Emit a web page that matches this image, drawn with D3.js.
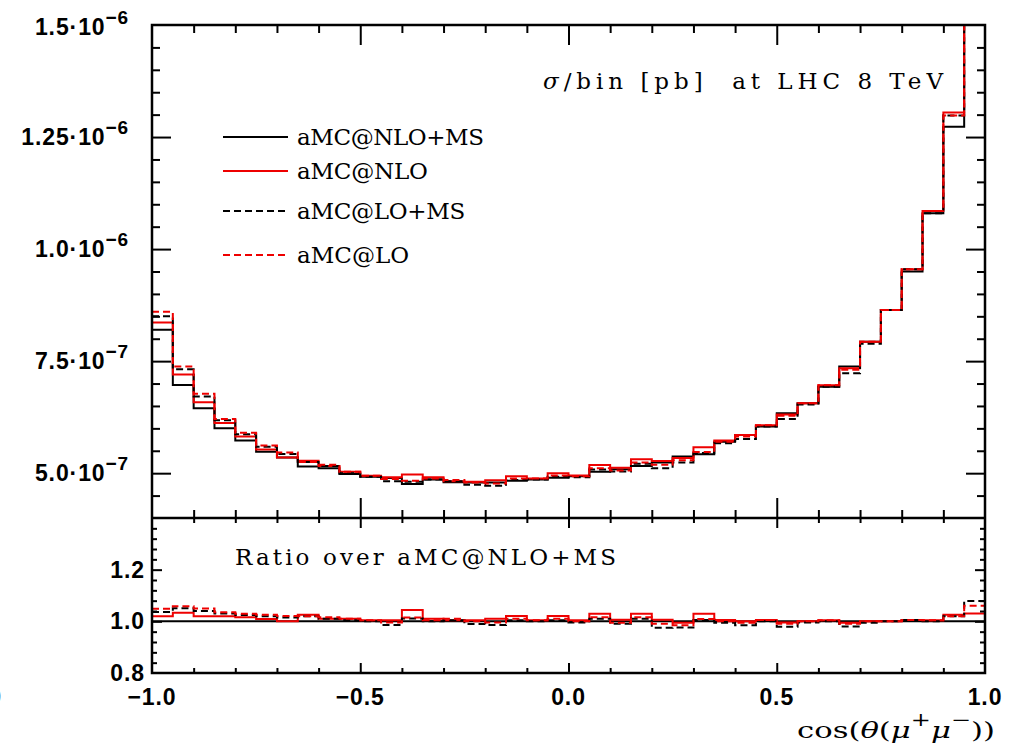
<!DOCTYPE html>
<html>
<head>
<meta charset="utf-8">
<script src="https://cdn.jsdelivr.net/npm/d3@7"></script>
<style>
body { margin: 0; background: #fff; }
svg { display: block; }
.tick line { stroke: #000; stroke-width: 2; }
.num { font-family: "Liberation Sans", Arial, sans-serif; font-weight: bold; font-size: 23px; letter-spacing: 0.9px; }
.lab { font-family: "DejaVu Serif", serif; font-size: 23px; white-space: pre; }
</style>
</head>
<body>
<svg id="chart" width="1012" height="752"></svg>
<script>
// bin edges in cos(theta)
var xEdges = [-1.0, -0.95, -0.9, -0.85, -0.8, -0.75, -0.7, -0.65, -0.6, -0.55,
	-0.5, -0.45, -0.4, -0.35, -0.3, -0.25, -0.2, -0.15, -0.1, -0.05,
	0.0, 0.05, 0.1, 0.15, 0.2, 0.25, 0.3, 0.35, 0.4, 0.45,
	0.5, 0.55, 0.6, 0.65, 0.7, 0.75, 0.8, 0.85, 0.9, 0.95, 1.0];

// sigma/bin in units of 1e-7 pb
var nloMS = [8.20, 6.97, 6.45, 6.00, 5.73, 5.48, 5.35, 5.15, 5.11, 4.98,
	4.92, 4.89, 4.76, 4.86, 4.80, 4.79, 4.79, 4.83, 4.86, 4.90,
	4.93, 5.03, 5.09, 5.16, 5.24, 5.37, 5.42, 5.70, 5.85, 6.04,
	6.34, 6.56, 6.93, 7.38, 7.93, 8.64, 9.50, 10.80, 12.73, 16.5];
var nlo = [8.36, 7.20, 6.58, 6.12, 5.82, 5.53, 5.35, 5.28, 5.16, 5.03,
	4.94, 4.91, 4.97, 4.91, 4.82, 4.81, 4.84, 4.93, 4.88, 5.00,
	4.95, 5.18, 5.12, 5.31, 5.27, 5.34, 5.58, 5.73, 5.85, 6.07,
	6.31, 6.56, 6.96, 7.34, 7.93, 8.64, 9.55, 10.85, 13.05, 17.0];
var loMS = [8.50, 7.32, 6.71, 6.18, 5.87, 5.59, 5.43, 5.25, 5.16, 5.00,
	4.92, 4.82, 4.81, 4.86, 4.82, 4.74, 4.72, 4.85, 4.86, 4.92,
	4.91, 5.08, 5.04, 5.21, 5.11, 5.24, 5.45, 5.67, 5.76, 6.04,
	6.21, 6.53, 6.93, 7.23, 7.89, 8.64, 9.55, 10.80, 12.98, 17.8];
var lo = [8.60, 7.38, 6.77, 6.21, 5.90, 5.62, 5.46, 5.25, 5.19, 5.03,
	4.94, 4.87, 4.83, 4.88, 4.85, 4.79, 4.77, 4.88, 4.88, 4.95,
	4.93, 5.11, 5.06, 5.24, 5.19, 5.29, 5.47, 5.70, 5.82, 6.07,
	6.28, 6.56, 6.96, 7.31, 7.93, 8.64, 9.55, 10.85, 12.98, 17.5];

var seriesNames = ["aMC@NLO+MS", "aMC@NLO", "aMC@LO+MS", "aMC@LO"];

var mainTicks = [5, 7.5, 10, 12.5, 15];
var mainTickText = ["5.0", "7.5", "1.0", "1.25", "1.5"];
var mainTickExp = ["\u22127", "\u22127", "\u22126", "\u22126", "\u22126"];
var ratioTicks = [0.8, 1.0, 1.2];
var ratioTickText = ["0.8", "1.0", "1.2"];
var xTicks = [-1, -0.5, 0, 0.5, 1];
var xTickText = ["\u22121.0", "\u22120.5", "0.0", "0.5", "1.0"];

var pLeft = 152, pRight = 985, pTop = 25, pMid = 518, pBottom = 673;

var svg = d3.select("#chart");
svg.append("rect").attr("width", 1012).attr("height", 752).attr("fill", "#fff");

var x = d3.scaleLinear().domain([-1, 1]).range([pLeft, pRight]);
var yMain = d3.scaleLinear().domain([4, 15]).range([pMid, pTop]);
var yRatio = d3.scaleLinear().domain([0.8, 1.4]).range([pBottom, pMid]);

var defs = svg.append("defs");
defs.append("clipPath").attr("id", "clipMain").append("rect")
	.attr("x", pLeft).attr("y", pTop).attr("width", pRight - pLeft).attr("height", pMid - pTop);
defs.append("clipPath").attr("id", "clipRatio").append("rect")
	.attr("x", pLeft).attr("y", pMid).attr("width", pRight - pLeft).attr("height", pBottom - pMid);

var series = [
	{ name: seriesNames[0], vals: nloMS, color: "#000", dash: null },
	{ name: seriesNames[1], vals: nlo, color: "#ee0000", dash: null },
	{ name: seriesNames[2], vals: loMS, color: "#000", dash: "7,4" },
	{ name: seriesNames[3], vals: lo, color: "#ee0000", dash: "7,4" }
];

function stepPoints(vals)
{
	var pts = vals.map(function(v, i) { return [xEdges[i], v]; });
	pts.push([xEdges[vals.length], vals[vals.length - 1]]);
	return pts;
}

var lineMain = d3.line().curve(d3.curveStepAfter)
	.x(function(d) { return x(d[0]); })
	.y(function(d) { return yMain(d[1]); });
var lineRatio = d3.line().curve(d3.curveStepAfter)
	.x(function(d) { return x(d[0]); })
	.y(function(d) { return yRatio(d[1]); });

var gMain = svg.append("g").attr("clip-path", "url(#clipMain)");
var gRatio = svg.append("g").attr("clip-path", "url(#clipRatio)");

series.forEach(function(s)
{
	gMain.append("path")
		.attr("d", lineMain(stepPoints(s.vals)))
		.attr("fill", "none").attr("stroke", s.color).attr("stroke-width", 2)
		.attr("stroke-dasharray", s.dash);
	var ratio = s.vals.map(function(v, i) { return v / nloMS[i]; });
	gRatio.append("path")
		.attr("d", lineRatio(stepPoints(ratio)))
		.attr("fill", "none").attr("stroke", s.color).attr("stroke-width", 2)
		.attr("stroke-dasharray", s.dash);
});

// ticks
function ticks(axis, tx, ty)
{
	var g = svg.append("g").attr("transform", "translate(" + tx + "," + ty + ")").call(axis);
	g.select(".domain").remove();
	g.selectAll("text").remove();
}

var mainMinor = d3.range(4.5, 15, 0.5).filter(function(v) { return mainTicks.indexOf(v) < 0; });
var mainMajor = mainTicks.filter(function(v) { return v < 15; });
var xMinor = d3.range(-9, 10).map(function(k) { return k / 10; }).filter(function(v) { return Math.abs(v * 2 - Math.round(v * 2)) > 1e-6; });
var xMajor = [-0.5, 0, 0.5];
var ratioMinor = d3.range(0.84, 1.4, 0.04).filter(function(v) { return Math.abs(v * 5 - Math.round(v * 5)) > 1e-6; });
var ratioMajor = [1.0, 1.2];

ticks(d3.axisRight(yMain).tickValues(mainMajor).tickSize(19), pLeft, 0);
ticks(d3.axisRight(yMain).tickValues(mainMinor).tickSize(8), pLeft, 0);
ticks(d3.axisLeft(yMain).tickValues(mainMajor).tickSize(19), pRight, 0);
ticks(d3.axisLeft(yMain).tickValues(mainMinor).tickSize(8), pRight, 0);
ticks(d3.axisBottom(x).tickValues(xMajor).tickSize(20), 0, pTop);
ticks(d3.axisBottom(x).tickValues(xMinor).tickSize(8), 0, pTop);
ticks(d3.axisTop(x).tickValues(xMajor).tickSize(20), 0, pMid);
ticks(d3.axisTop(x).tickValues(xMinor).tickSize(8), 0, pMid);
ticks(d3.axisBottom(x).tickValues(xMajor).tickSize(10), 0, pMid);
ticks(d3.axisBottom(x).tickValues(xMinor).tickSize(5), 0, pMid);
ticks(d3.axisTop(x).tickValues(xMajor).tickSize(10), 0, pBottom);
ticks(d3.axisTop(x).tickValues(xMinor).tickSize(5), 0, pBottom);
ticks(d3.axisRight(yRatio).tickValues(ratioMajor).tickSize(10), pLeft, 0);
ticks(d3.axisRight(yRatio).tickValues(ratioMinor).tickSize(5), pLeft, 0);
ticks(d3.axisLeft(yRatio).tickValues(ratioMajor).tickSize(10), pRight, 0);
ticks(d3.axisLeft(yRatio).tickValues(ratioMinor).tickSize(5), pRight, 0);

// frame
svg.append("rect").attr("x", pLeft).attr("y", pTop).attr("width", pRight - pLeft).attr("height", pBottom - pTop)
	.attr("fill", "none").attr("stroke", "#000").attr("stroke-width", 2.5);
svg.append("line").attr("x1", pLeft).attr("x2", pRight).attr("y1", pMid).attr("y2", pMid)
	.attr("stroke", "#000").attr("stroke-width", 2.5);

// tick labels
mainTicks.forEach(function(v, i)
{
	var t = svg.append("text").attr("class", "num").attr("text-anchor", "end")
		.attr("x", 129).attr("y", yMain(v) + (v == 15 ? 10 : 8));
	t.append("tspan").text(mainTickText[i] + "\u00b710");
	t.append("tspan").attr("dy", -11).attr("font-size", 19).text(mainTickExp[i]);
});
ratioTicks.forEach(function(v, i)
{
	svg.append("text").attr("class", "num").attr("text-anchor", "end")
		.attr("x", 145).attr("y", yRatio(v) + 8).text(ratioTickText[i]);
});
xTicks.forEach(function(v, i)
{
	svg.append("text").attr("class", "num").attr("text-anchor", "middle")
		.attr("x", x(v)).attr("y", 705).text(xTickText[i]);
});

// legend
var legendY = [137, 171, 211, 255];
series.forEach(function(s, i)
{
	svg.append("line").attr("x1", 223).attr("x2", 288).attr("y1", legendY[i]).attr("y2", legendY[i])
		.attr("stroke", s.color).attr("stroke-width", 2).attr("stroke-dasharray", s.dash);
	svg.append("text").attr("class", "lab").attr("x", 297).attr("y", legendY[i] + 8)
		.attr("textLength", s.name.length * 18.7).attr("lengthAdjust", "spacing")
		.text(s.name);
});

// title
var title = svg.append("text").attr("class", "lab").attr("x", 543).attr("y", 89)
	.attr("font-size", 24).attr("textLength", 400).attr("lengthAdjust", "spacing");
title.append("tspan").attr("font-style", "italic").text("\u03c3");
title.append("tspan").text("/bin [pb]  at LHC 8 TeV");

svg.append("text").attr("class", "lab").attr("x", 235).attr("y", 565)
	.attr("font-size", 24).attr("textLength", 381).attr("lengthAdjust", "spacing")
	.text("Ratio over aMC@NLO+MS");

// x axis title
var xt = svg.append("text").attr("class", "lab").attr("text-anchor", "end")
	.attr("x", 995).attr("y", 738).attr("font-size", 30)
	.attr("textLength", 198).attr("lengthAdjust", "spacingAndGlyphs");
xt.append("tspan").text("cos(");
xt.append("tspan").attr("font-style", "italic").text("\u03b8");
xt.append("tspan").text("(");
xt.append("tspan").attr("font-style", "italic").text("\u03bc");
xt.append("tspan").attr("dy", -12).attr("font-size", 18).text("+");
xt.append("tspan").attr("dy", 12).attr("font-style", "italic").text("\u03bc");
xt.append("tspan").attr("dy", -12).attr("font-size", 18).text("\u2212");
xt.append("tspan").attr("dy", 12).text("))");

// clipped glyph at the left edge
svg.append("text").attr("class", "lab").attr("x", -7).attr("y", 703).attr("font-size", 22).text(")");
</script>
</body>
</html>
